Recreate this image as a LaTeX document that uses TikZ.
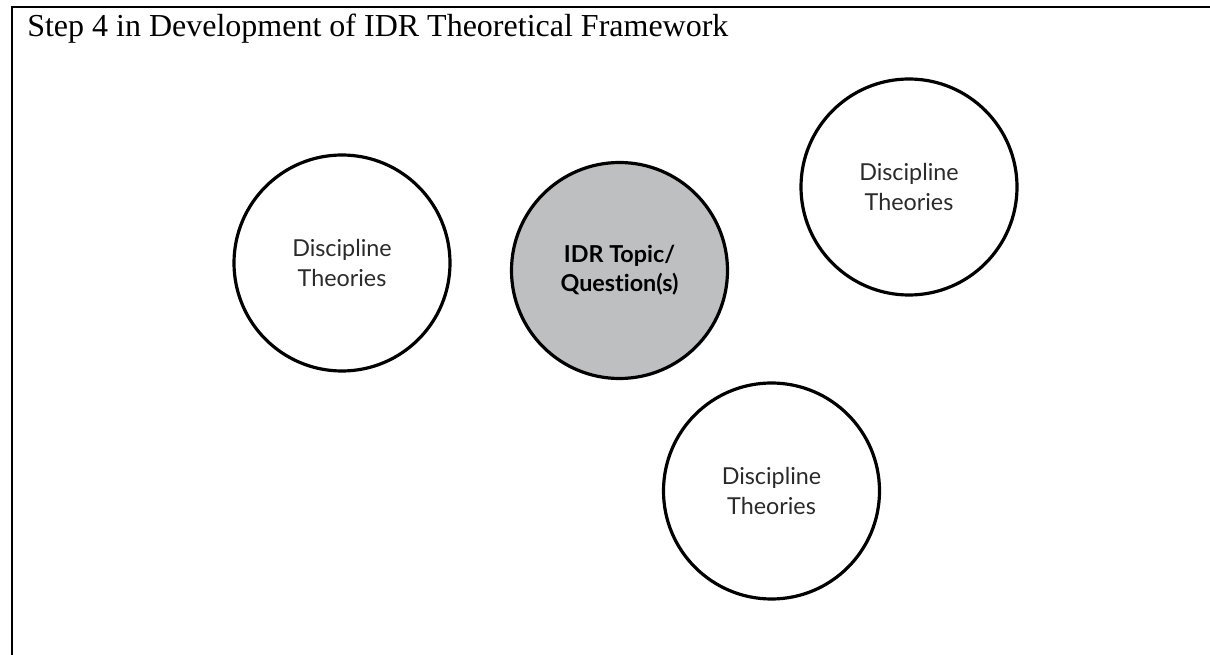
\documentclass[tikz,border=0pt]{standalone}
\usepackage{fontspec}
\setmainfont{Liberation Serif}
\newfontfamily\circfont[Ligatures={NoCommon}]{Lato}
\definecolor{topicgray}{HTML}{BEBFC1}
\definecolor{txtgray}{HTML}{2A2A2A}
\tikzset{
  frameline/.style={line width=1.5pt, line cap=rect},
  disc/.style={circle, draw=black, line width=2.4pt, minimum size=162pt, inner sep=0pt,
    align=center, text=txtgray, font=\circfont\fontsize{17.5}{22.5}\selectfont},
  topic/.style={disc, fill=topicgray, text=black, font=\circfont\bfseries\fontsize{17.5}{22}\selectfont},
  titletext/.style={anchor=base west, inner sep=0pt, font=\fontsize{24}{28}\selectfont}
}
\begin{document}
\begin{tikzpicture}[x=0.75pt, y=-0.75pt]
\useasboundingbox (0,0) rectangle (1210,655);
\coordinate (tl) at (12,7.5);
\coordinate (tr) at (1212,7.5);
\coordinate (bl) at (12,657);
\draw[frameline] (tr) -- (tl) -- (bl);
\node[titletext] (title) at (27,37) {Step 4 in Development of IDR Theoretical Framework};
\node[disc] (left) at (342,263) {Discipline\\Theories};
\node[topic] (center) at (619.5,270.5) {IDR Topic/\\Question(s)};
\node[disc] (right) at (909,187) {Discipline\\Theories};
\node[disc] (bottom) at (771.5,491) {Discipline\\Theories};
\end{tikzpicture}
\end{document}
